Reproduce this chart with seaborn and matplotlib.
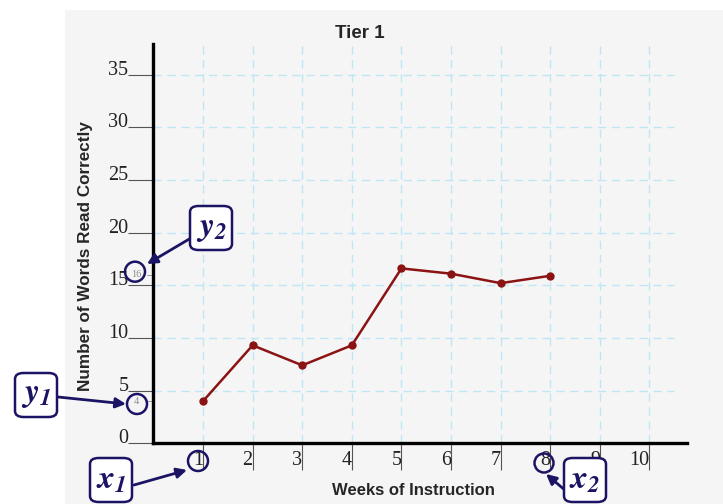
import numpy as np
import pandas as pd
import seaborn as sns
import matplotlib.pyplot as plt
from matplotlib.patches import Rectangle, FancyBboxPatch, Ellipse

# ---------------- Data ----------------
weeks = [1, 2, 3, 4, 5, 6, 7, 8]
words = [4, 9.3, 7.4, 9.3, 16.6, 16.1, 15.2, 15.9]
x_ticks = [1, 2, 3, 4, 5, 6, 7, 8, 9, 10]
y_ticks = [0, 5, 10, 15, 20, 25, 30, 35]

df = pd.DataFrame({"week": weeks, "words": words})

W, H = 723, 504

sns.set_style("white")
plt.rcParams["font.family"] = ["Liberation Sans", "DejaVu Sans"]
plt.rcParams["mathtext.fontset"] = "stix"

fig = plt.figure(figsize=(W / 100, H / 100), dpi=100)
fig.patch.set_facecolor("white")


def fp(x, y):
    # pixel (top-left origin) -> figure fraction
    return (x / W, 1 - y / H)


# grey panel behind the chart
fig.patches.append(Rectangle(fp(65, H), (W - 65) / W, (H - 10) / H,
                             transform=fig.transFigure, facecolor="#f5f5f5",
                             edgecolor="none", zorder=-10))

ax = fig.add_axes([153.4 / W, (H - 443.3) / H, 533.3 / W, 399.3 / H])
ax.set_facecolor("none")
ax.set_zorder(1)

# grid
ax.hlines(y_ticks[1:], 0, 10.5, colors="#bfe6f5", linestyles=(0, (6, 4)), lw=1, zorder=1)
ax.vlines(x_ticks, 0, 37.9, colors="#bfe6f5", linestyles=(0, (6, 4)), lw=1, zorder=1)

sns.lineplot(data=df, x="week", y="words", ax=ax, color="#8b1313", lw=1.8,
             marker="o", markersize=6, markeredgewidth=0, zorder=3)

ax.set_xlim(0, 10.75)
ax.set_ylim(0, 37.9)
for s in ["top", "right"]:
    ax.spines[s].set_visible(False)
for s in ["left", "bottom"]:
    ax.spines[s].set_linewidth(2.4)
    ax.spines[s].set_color("black")

ax.set_yticks(y_ticks)
ax.set_yticklabels([str(v) for v in y_ticks], family="Liberation Serif", fontsize=14.5, color="#222222")
ax.tick_params(axis="y", left=True, length=18, width=0.8, color="#555555", pad=0)
for lab in ax.get_yticklabels():
    lab.set_verticalalignment("baseline")

ax.set_xticks(x_ticks)
ax.set_xticklabels([str(v) for v in x_ticks], family="Liberation Serif", fontsize=14.5,
                   color="#222222", ha="right")
ax.tick_params(axis="x", bottom=True, length=19.5, width=0.8, color="#555555", pad=-14)

ax.set_xlabel("Weeks of Instruction", fontsize=12, fontweight="bold")
ax.xaxis.set_label_coords(0.487, -0.1)
ax.set_ylabel("Number of Words Read Correctly", fontsize=12.3, fontweight="bold")
ax.yaxis.set_label_coords(-0.113, 0.469)
ax.text(0.387, 1.027, "Tier 1", transform=ax.transAxes, ha="center", va="center",
        fontsize=13.5, fontweight="bold")

# small grey values on the y axis
for v in [16, 4]:
    ax.annotate(str(v), xy=(0, v), xytext=(-17, 0), textcoords="offset pixels",
                ha="center", va="center", fontsize=7.5, color="#8c8c8c",
                family="Liberation Serif", annotation_clip=False, zorder=6)
    ax.plot([-0.12, 0], [v, v], color="#9a9a9a", lw=0.7, clip_on=False)

navy = "#1b1464"
overlay = []

# circles around the marked values
for cx, cy, r in [(135, 271.7, 10), (137, 404, 10), (198, 461, 10), (544, 463, 9.5)]:
    overlay.append(Ellipse(fp(cx, cy), 2 * r / W, 2 * r / H, transform=fig.transFigure,
                           facecolor="none", edgecolor=navy, lw=1.8, zorder=5))

# labelled boxes with arrows
boxes = [
    ("y", "2", (211, 228), (191, 238), (147, 264)),
    ("y", "1", (36, 395), (58, 397), (126, 404)),
    ("x", "1", (111, 480), (134, 485), (187, 470)),
    ("x", "2", (585, 480), (566, 491), (546, 474)),
]
for letter, sub, (bx, by), start, end in boxes:
    bw, bh = 42, 44
    ax.annotate("", xy=fp(*end), xycoords="figure fraction", xytext=fp(*start),
                textcoords="figure fraction", annotation_clip=False, zorder=8,
                arrowprops=dict(arrowstyle="-|>,head_length=0.6,head_width=0.3",
                                color=navy, lw=2, shrinkA=0, shrinkB=0))
    overlay.append(FancyBboxPatch(fp(bx - bw / 2, by + bh / 2), bw / W, bh / H,
                                  boxstyle="round,pad=0,rounding_size=0.012",
                                  transform=fig.transFigure, facecolor="white",
                                  edgecolor=navy, lw=1.8, zorder=9))
    ax.text(*fp(bx, by), r"$\mathbfit{%s}_{\mathbfit{%s}}$" % (letter, sub),
            transform=fig.transFigure, ha="center", va="center", fontsize=24,
            color=navy, zorder=10)

for p in overlay:
    p.set_clip_on(False)
    ax.add_artist(p)

fig.savefig("out.png", dpi=100)
